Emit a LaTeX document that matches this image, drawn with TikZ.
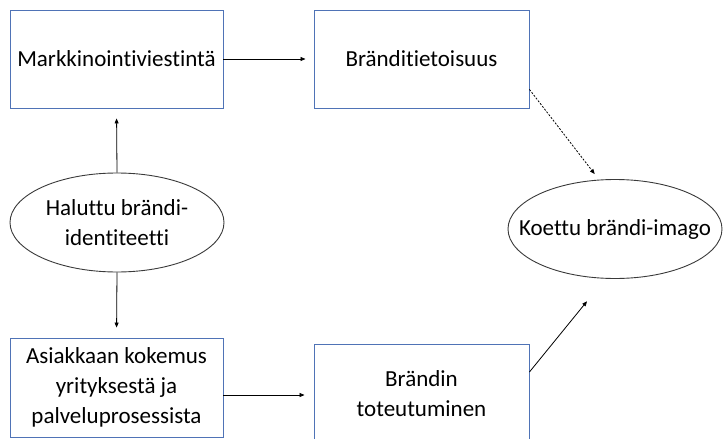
\documentclass[tikz,border=0pt]{standalone}
\usepackage{fontspec}
\setmainfont{Carlito}[Ligatures={NoCommon}]
\usetikzlibrary{shapes.geometric,arrows.meta}
\definecolor{boxblue}{HTML}{4F73B6}
\definecolor{ovalgray}{HTML}{3A3A3A}
\tikzset{
  every node/.style={font=\fontsize{23}{30}\selectfont, align=center, inner sep=0pt},
  blockbox/.style={draw=boxblue, line width=0.9pt, rectangle},
  oval/.style={draw=ovalgray, line width=0.9pt, ellipse, inner xsep=-60pt, inner ysep=-30pt,
    minimum width=214pt, minimum height=99pt},
  link/.style={line width=0.8pt, -{Triangle[length=5pt,width=4pt]}},
}
\begin{document}
\begin{tikzpicture}[x=1pt, y=-1pt]
  \clip (0,0) rectangle (726,439);
  % boxes
  \node[blockbox, minimum width=213pt, minimum height=98pt] (mv) at (116.5,59) {Markkinointiviestintä};
  \node[blockbox, minimum width=215pt, minimum height=98pt] (bt) at (421.5,59) {Bränditietoisuus};
  \node[blockbox, minimum width=213pt, minimum height=99pt] (ak) at (116.5,387.5) {Asiakkaan kokemus\\yrityksestä ja\\palveluprosessista};
  \node[blockbox, minimum width=215pt, minimum height=100pt] (tt) at (421.5,394) {Brändin\\toteutuminen};
  % ovals
  \node[oval] (hi) at (117,222.5) {Haluttu brändi-\\identiteetti};
  \node[oval] (kb) at (615,229) {Koettu brändi-imago};
  % connectors
  \draw[link, shorten >=8pt] (mv.east) -- (bt.west);
  \draw[link, shorten >=9pt] ([yshift=-7.5pt]ak.east) -- ([yshift=-1pt]tt.west);
  \draw[link, shorten >=10pt] (hi.north) -- (mv.south);
  \draw[link, shorten >=10pt] (hi.south) -- (ak.north);
  \draw[link, dash pattern=on 2pt off 1.5pt, shorten >=7pt] ([yshift=19pt]bt.south east) -- (kb.108);
  \draw[link, shorten >=29pt] ([yshift=22pt]tt.east) -- (kb.259);
\end{tikzpicture}
\end{document}
